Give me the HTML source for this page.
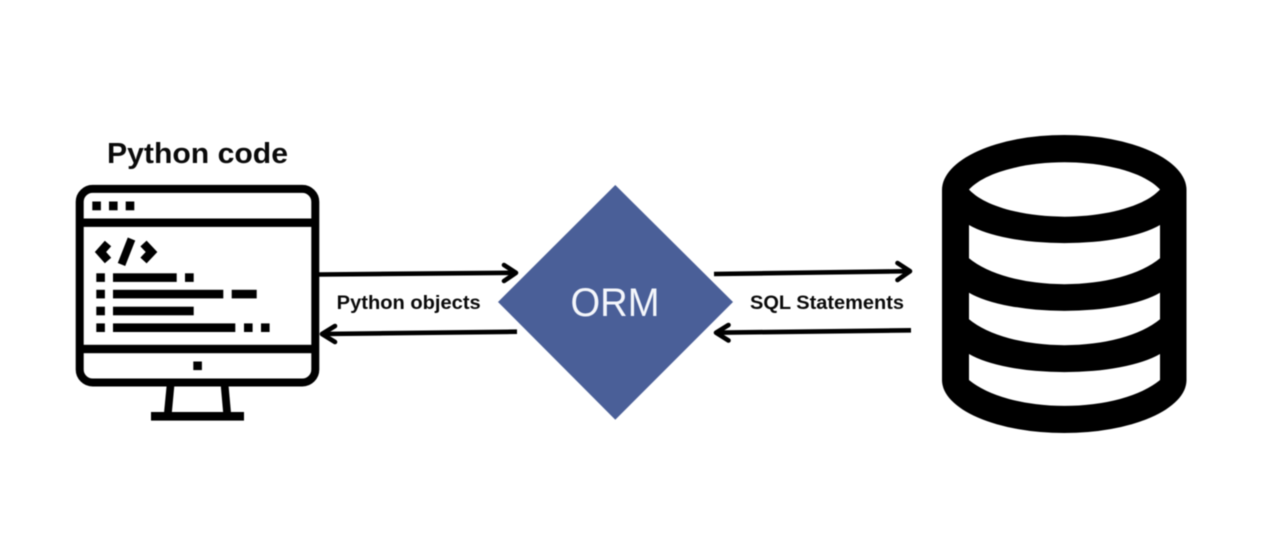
<!DOCTYPE html>
<html>
<head>
<meta charset="utf-8">
<style>
html,body{margin:0;padding:0;background:#fff;}
svg{display:block;filter:blur(0.45px);}
text{font-family:"Liberation Sans",sans-serif;}
</style>
</head>
<body>
<svg width="1280" height="543" viewBox="0 0 1280 543" xmlns="http://www.w3.org/2000/svg">
<rect width="1280" height="543" fill="#fff"/>
<text x="107" y="163" font-size="29" font-weight="bold" fill="#0a0a0a" textLength="181" lengthAdjust="spacingAndGlyphs">Python code</text>

<!-- monitor -->
<g fill="#000">
<rect x="79.7" y="188.9" width="235.6" height="193.6" rx="13" fill="none" stroke="#000" stroke-width="8"/>
<rect x="79" y="218.5" width="237" height="8.4"/>
<rect x="79" y="344.8" width="237" height="8.4"/>
<rect x="92.3" y="201.5" width="8.6" height="8.8"/>
<rect x="109" y="201.5" width="8.6" height="8.8"/>
<rect x="125.7" y="201.5" width="8.6" height="8.8"/>
<rect x="96.3" y="273.3" width="8.6" height="8.6"/>
<rect x="113" y="273.3" width="63.7" height="8.6"/>
<rect x="185" y="273.3" width="8.7" height="8.6"/>
<rect x="96.3" y="289.8" width="8.6" height="8.6"/>
<rect x="113" y="289.8" width="110.3" height="8.6"/>
<rect x="231.7" y="289.8" width="25" height="8.6"/>
<rect x="96.3" y="306.7" width="8.6" height="8.6"/>
<rect x="113" y="306.7" width="80.7" height="8.6"/>
<rect x="96.3" y="323.4" width="8.6" height="8.6"/>
<rect x="113" y="323.4" width="122.3" height="8.6"/>
<rect x="244" y="323.4" width="8.6" height="8.6"/>
<rect x="261" y="323.4" width="8.6" height="8.6"/>
<rect x="193.3" y="361.5" width="8.6" height="8.6"/>
<rect x="151" y="412" width="93" height="8.6"/>
<polygon points="166.7,385 174.4,385 171.8,413 164,413"/>
<polygon points="220.7,385 228.5,385 231,413 223.2,413"/>
</g>
<g fill="none" stroke="#000">
<polyline points="108,243.5 100.5,252 108,260.5" stroke-width="8.5"/>
<line x1="131.5" y1="239" x2="121.5" y2="264.5" stroke-width="8"/>
<polyline points="143.5,243.5 151.5,252 143.5,260.5" stroke-width="8.5"/>
</g>

<!-- arrows -->
<g fill="none" stroke="#000" stroke-width="4.6" stroke-linecap="round" stroke-linejoin="round">
<line x1="319" y1="274.5" x2="515" y2="272.8" stroke-linecap="butt"/>
<polyline points="504,265 516,272.8 504,281"/>
<line x1="517" y1="331.7" x2="322" y2="334" stroke-linecap="butt"/>
<polyline points="335,326 322,334 335,342"/>
<line x1="714" y1="274" x2="909" y2="271.2" stroke-linecap="butt"/>
<polyline points="897.5,263 910,271.2 897.5,280"/>
<line x1="911" y1="330.3" x2="716" y2="332.7" stroke-linecap="butt"/>
<polyline points="728.5,325 716,332.7 728.5,340.5"/>
</g>

<text x="336.7" y="309" font-size="19" font-weight="bold" fill="#0a0a0a" textLength="144" lengthAdjust="spacingAndGlyphs">Python objects</text>
<text x="750" y="309" font-size="19" font-weight="bold" fill="#0a0a0a" textLength="154" lengthAdjust="spacingAndGlyphs">SQL Statements</text>

<!-- diamond -->
<polygon points="615.3,185 733,302 615.3,419.7 498,302" fill="#4a5f98"/>
<text x="570.5" y="316" font-size="40" fill="#f4f6fb" textLength="89" lengthAdjust="spacingAndGlyphs">ORM</text>

<!-- database -->
<path d="M942,190 A122.25,55 0 0 1 1186.5,190 L1186.5,380 A122.25,53 0 0 1 942,380 Z" fill="#000"/>
<g fill="#fff">
<path d="M969,189.5 C985,172 1025,162.3 1064.5,162.3 C1104,162.3 1144,172 1160,189.5 C1144,207 1104,216.7 1064.5,216.7 C1025,216.7 985,207 969,189.5 Z"/>
<path d="M969,225 A109,35 0 0 0 1160,225 L1160,258.3 A109,50 0 0 1 969,258.3 Z"/>
<path d="M969,292.7 A109,35 0 0 0 1160,292.7 L1160,319.3 A109,50 0 0 1 969,319.3 Z"/>
<path d="M969,354 A109,35 0 0 0 1160,354 L1160,380 A109,50 0 0 1 969,380 Z"/>
</g>
</svg>
</body>
</html>
